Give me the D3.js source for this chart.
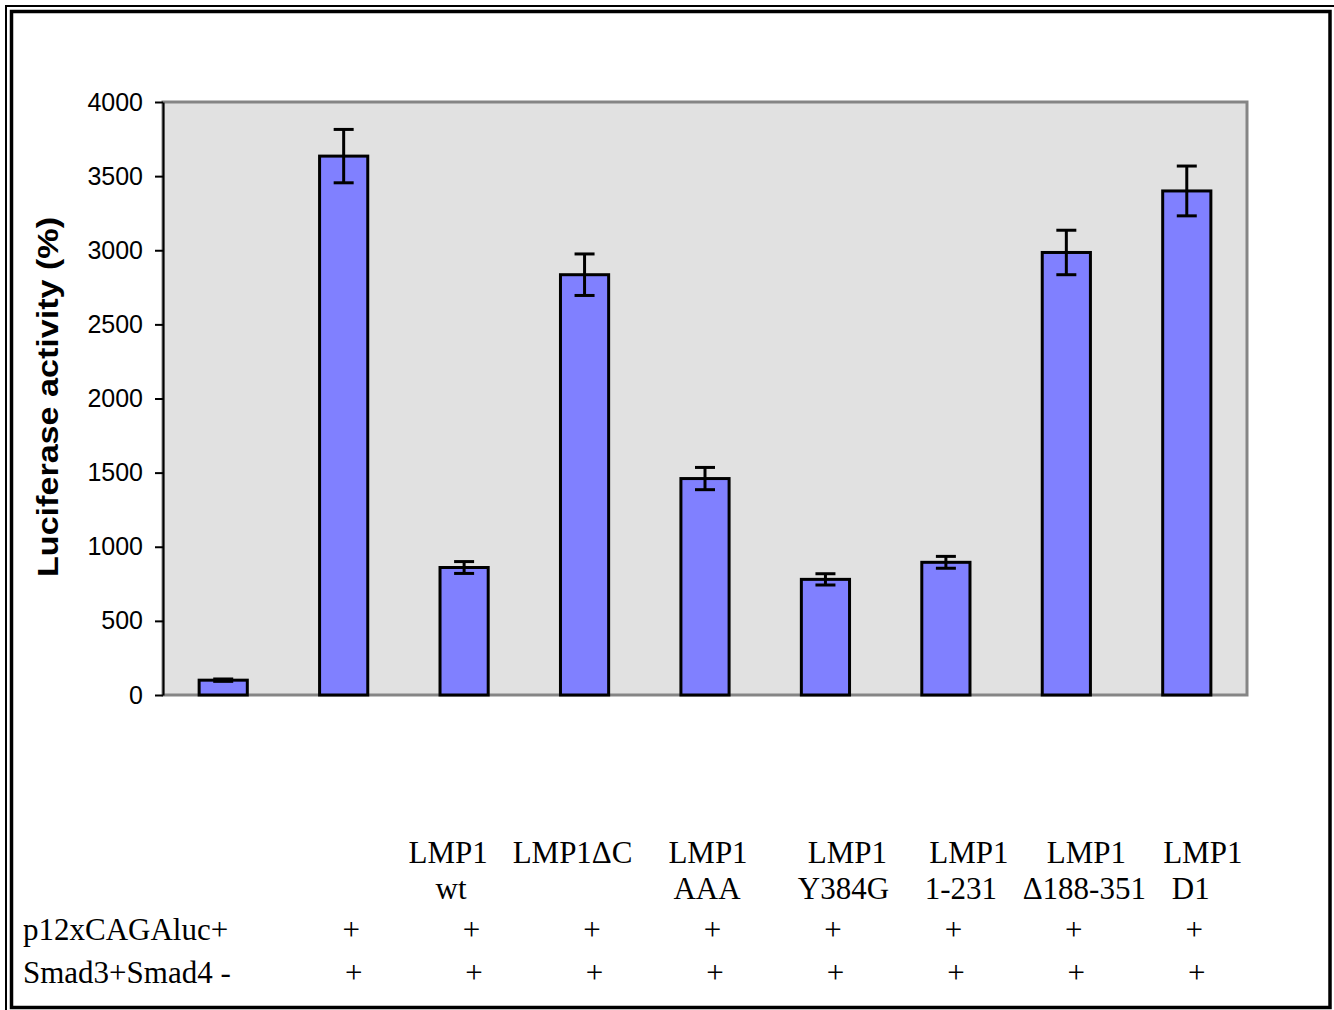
<!DOCTYPE html>
<html>
<head>
<meta charset="utf-8">
<script src="https://cdn.jsdelivr.net/npm/d3@7"></script>
<style>
  html, body { margin: 0; padding: 0; background: #ffffff; }
  svg { display: block; }
</style>
</head>
<body>
<svg id="chart" width="1334" height="1010"></svg>
<script>
// Luciferase reporter activity (%) for each transfection condition
const categories = ["ctrl", "Smad3+Smad4", "LMP1 wt", "LMP1ΔC", "LMP1 AAA", "LMP1 Y384G", "LMP1 1-231", "LMP1 Δ188-351", "LMP1 D1"];
const activity   = [100, 3635, 860, 2835, 1460, 780, 895, 2985, 3400];
const errors     = [8, 180, 40, 140, 75, 38, 40, 150, 168];
const yTicks     = [0, 500, 1000, 1500, 2000, 2500, 3000, 3500, 4000];

// table text under the plot
const labelLines = [[], [], ["LMP1", "wt"], ["LMP1ΔC"], ["LMP1", "AAA"], ["LMP1", "Y384G"], ["LMP1", "1-231"], ["LMP1", "Δ188-351"], ["LMP1", "D1"]];
const labelNudge = [[], [], [-16, -13], [-12], [3, 2], [22, 18], [23, 15], [20, 18], [16, 4]];
const reporterRow = ["", "+", "+", "+", "+", "+", "+", "+", "+"];
const smadRow     = ["", "+", "+", "+", "+", "+", "+", "+", "+"];
const rowTitles   = ["p12xCAGAluc+", "Smad3+Smad4 -"];

const svg = d3.select("#chart");
const W = 1334, H = 1010;
const plot = { left: 163, right: 1247, top: 102, bottom: 695 };

svg.append("rect").attr("width", W).attr("height", H).attr("fill", "#ffffff");

// double frame
svg.append("rect").attr("x", 6).attr("y", 6).attr("width", W + 10).attr("height", H + 10)
  .attr("fill", "none").attr("stroke", "#000").attr("stroke-width", 2);
svg.append("rect").attr("x", 11.5).attr("y", 11.5).attr("width", 1330 - 11.5).attr("height", 1007.5 - 11.5)
  .attr("fill", "none").attr("stroke", "#000").attr("stroke-width", 3.5);

const x = d3.scaleBand()
  .domain(d3.range(categories.length))
  .range([plot.left, plot.right])
  .paddingInner(0.6)
  .paddingOuter(0.3);

const y = d3.scaleLinear().domain([0, 4000]).range([plot.bottom, plot.top]);

// plot area
svg.append("rect")
  .attr("x", plot.left).attr("y", plot.top)
  .attr("width", plot.right - plot.left).attr("height", plot.bottom - plot.top)
  .attr("fill", "#e1e1e1").attr("stroke", "#858585").attr("stroke-width", 3);

// y axis
const yAxis = d3.axisLeft(y).tickValues(yTicks).tickFormat(d3.format("d"))
  .tickSize(8).tickSizeOuter(0).tickPadding(12);
const gy = svg.append("g").attr("transform", `translate(${plot.left},0)`).call(yAxis);
gy.select(".domain").attr("stroke", "#000").attr("stroke-width", 2);
gy.selectAll(".tick line").attr("stroke", "#000").attr("stroke-width", 2);
gy.selectAll(".tick text")
  .attr("font-family", "'Liberation Sans', Arial, sans-serif")
  .attr("font-size", 25).attr("fill", "#000");

svg.append("text")
  .attr("transform", `translate(58,${(216 + 578) / 2}) rotate(-90)`)
  .attr("text-anchor", "middle")
  .attr("font-family", "'Liberation Sans', Arial, sans-serif")
  .attr("font-weight", "bold").attr("font-size", 30)
  .attr("textLength", 360).attr("lengthAdjust", "spacingAndGlyphs")
  .text("Luciferase activity (%)");

// bars
svg.append("g").selectAll("rect")
  .data(activity)
  .join("rect")
  .attr("x", (d, i) => x(i))
  .attr("y", d => y(d))
  .attr("width", x.bandwidth())
  .attr("height", d => y(0) - y(d))
  .attr("fill", "#8080ff")
  .attr("stroke", "#000")
  .attr("stroke-width", 3);

// error bars
const eg = svg.append("g").attr("stroke", "#000").attr("stroke-width", 3);
activity.forEach((v, i) => {
  const cx = x(i) + x.bandwidth() / 2;
  const hi = y(v + errors[i]), lo = y(v - errors[i]);
  eg.append("line").attr("x1", cx).attr("x2", cx).attr("y1", hi).attr("y2", lo);
  eg.append("line").attr("x1", cx - 10).attr("x2", cx + 10).attr("y1", hi).attr("y2", hi);
  eg.append("line").attr("x1", cx - 10).attr("x2", cx + 10).attr("y1", lo).attr("y2", lo);
});

// condition table
const serif = "'Liberation Serif', 'Times New Roman', serif";
const tg = svg.append("g").attr("font-family", serif).attr("font-size", 31).attr("fill", "#000");
const lineBase = [863, 899];
labelLines.forEach((lines, i) => {
  const cx = x(i) + x.bandwidth() / 2;
  lines.forEach((t, j) => {
    tg.append("text")
      .attr("x", cx + labelNudge[i][j]).attr("y", lineBase[j])
      .attr("text-anchor", "middle").text(t);
  });
});

tg.append("text").attr("x", 23).attr("y", 940).text(rowTitles[0]);
tg.append("text").attr("x", 23).attr("y", 983).text(rowTitles[1]);

tg.selectAll(".rep").data(reporterRow).join("text").attr("class", "rep")
  .attr("x", (d, i) => x(i) + x.bandwidth() / 2 + 7.5)
  .attr("y", 940).attr("text-anchor", "middle").text(d => d);
tg.selectAll(".smad").data(smadRow).join("text").attr("class", "smad")
  .attr("x", (d, i) => x(i) + x.bandwidth() / 2 + 10)
  .attr("y", 983).attr("text-anchor", "middle").text(d => d);
</script>
</body>
</html>
